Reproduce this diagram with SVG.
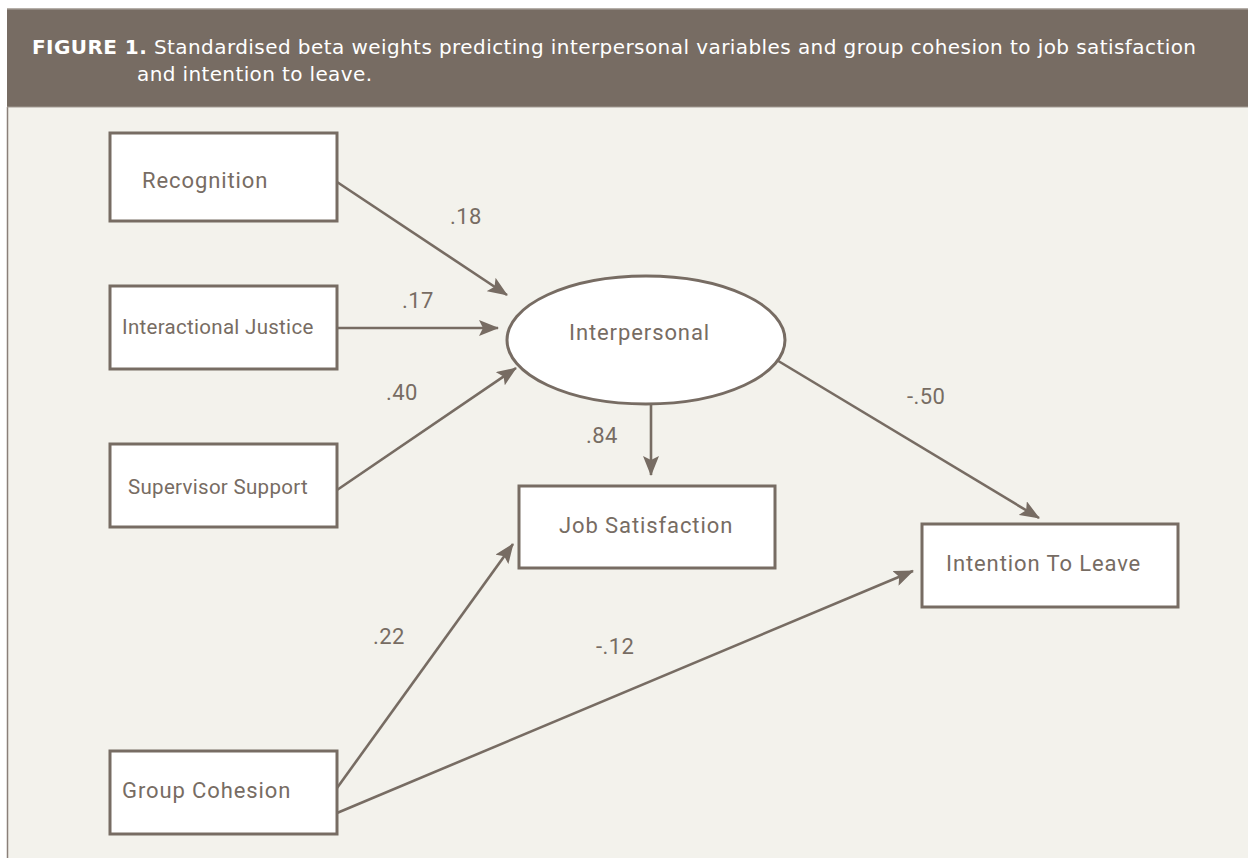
<svg xmlns="http://www.w3.org/2000/svg" width="1248" height="858" viewBox="0 0 1248 858">
<defs>
<style>
.node{fill:#ffffff;stroke:#776c63;stroke-width:3}
.lbl{font-family:Roboto,"Liberation Sans",sans-serif;font-size:22px;fill:#776c63;letter-spacing:0.9px}
.lbs{font-family:Roboto,"Liberation Sans",sans-serif;font-size:20.5px;fill:#776c63;letter-spacing:0.3px}
.num{font-family:Roboto,"Liberation Sans",sans-serif;font-size:22px;fill:#776c63;letter-spacing:0.4px}
.edge{stroke:#776c63;stroke-width:2.6;fill:none;marker-end:url(#arr)}
.hdr{font-family:"DejaVu Sans","Liberation Sans",sans-serif;font-size:20px;fill:#ffffff}
</style>
<marker id="arr" markerWidth="20" markerHeight="16" viewBox="0 0 20 16" refX="19" refY="8" orient="auto" markerUnits="userSpaceOnUse">
<path d="M0,0 L20,8 L0,16 L4,8 Z" fill="#776c63"/>
</marker>
</defs>
<rect x="0" y="0" width="1248" height="858" fill="#ffffff"/>
<rect x="7" y="107" width="1241" height="751" fill="#f3f2ec"/>
<line x1="7.5" y1="107" x2="7.5" y2="858" stroke="#8a8079" stroke-width="1.5"/>
<rect x="7" y="9" width="1241" height="98" fill="#776c63"/>
<line x1="7" y1="9" x2="1248" y2="9" stroke="#9d948d" stroke-width="1.5"/>
<line x1="7" y1="107" x2="1248" y2="107" stroke="#a39a93" stroke-width="1"/>
<g id="title">
<text class="hdr" x="32" y="54" textLength="1164" lengthAdjust="spacing"><tspan font-weight="bold">FIGURE 1.</tspan> Standardised beta weights predicting interpersonal variables and group cohesion to job satisfaction</text>
<text class="hdr" x="137" y="81" textLength="235" lengthAdjust="spacing">and intention to leave.</text>
</g>
<g id="connectors">
<line class="edge" x1="337" y1="182" x2="507" y2="295"/>
<line class="edge" x1="337" y1="328" x2="498" y2="328"/>
<line class="edge" x1="337" y1="490" x2="516" y2="368"/>
<line class="edge" x1="651" y1="404" x2="651" y2="475"/>
<line class="edge" x1="775" y1="359" x2="1039" y2="518"/>
<line class="edge" x1="337" y1="788" x2="513" y2="544"/>
<line class="edge" x1="337" y1="813" x2="913" y2="571"/>
<text class="num" x="450" y="224">.18</text>
<text class="num" x="402" y="308">.17</text>
<text class="num" x="386" y="400">.40</text>
<text class="num" x="586" y="443">.84</text>
<text class="num" x="907" y="404">-.50</text>
<text class="num" x="373" y="644">.22</text>
<text class="num" x="596" y="654">-.12</text>
</g>
<g id="recognition">
<rect class="node" x="110" y="133" width="227" height="88"/>
<text class="lbl" x="142" y="188">Recognition</text>
</g>
<g id="interactional-justice">
<rect class="node" x="110" y="286" width="227" height="83"/>
<text class="lbs" x="122" y="334">Interactional Justice</text>
</g>
<g id="supervisor-support">
<rect class="node" x="110" y="444" width="227" height="83"/>
<text class="lbs" x="128" y="494">Supervisor Support</text>
</g>
<g id="interpersonal">
<ellipse class="node" cx="646" cy="340" rx="139" ry="64"/>
<text class="lbl" x="569" y="340">Interpersonal</text>
</g>
<g id="job-satisfaction">
<rect class="node" x="519" y="486" width="256" height="82"/>
<text class="lbl" x="559" y="533">Job Satisfaction</text>
</g>
<g id="intention-to-leave">
<rect class="node" x="922" y="524" width="256" height="83"/>
<text class="lbl" x="946" y="571">Intention To Leave</text>
</g>
<g id="group-cohesion">
<rect class="node" x="110" y="751" width="227" height="83"/>
<text class="lbl" x="122" y="798">Group Cohesion</text>
</g>
</svg>
